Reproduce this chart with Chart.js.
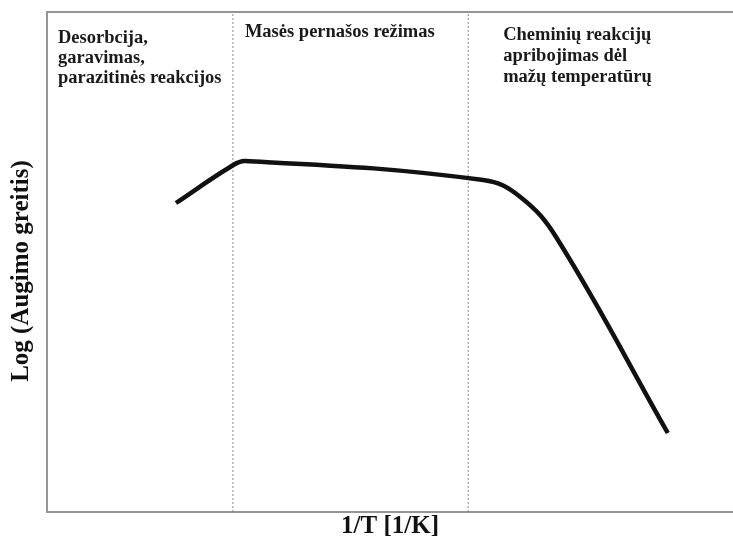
<!DOCTYPE html>
<html>
<head>
<meta charset="utf-8">
<script src="https://cdn.jsdelivr.net/npm/chart.js@4/dist/chart.umd.min.js"></script>
<style>
  html, body { margin: 0; padding: 0; background: #ffffff; }
  #wrap { width: 733px; height: 542px; }
</style>
</head>
<body>
<div id="wrap"><canvas id="c" width="733" height="542"></canvas></div>
<script>
// Growth rate curve vs inverse temperature (arbitrary units)
const invTemp = [1.88, 2.67, 2.89, 6.36, 6.90, 7.43, 9.05];
const logRate = [6.18, 6.90, 7.02, 6.64, 6.30, 5.48, 1.58];

// Boundaries between the three regimes (same units as invTemp)
const regimeBounds = [2.71, 6.14];

// Regime captions, one array of lines per regime
const regimeLabels = [
  ["Desorbcija,", "garavimas,", "parazitinės reakcijos"],
  ["Masės pernašos režimas"],
  ["Cheminių reakcijų", "apribojimas dėl", "mažų temperatūrų"]
];

const axisTitles = { x: "1/T [1/K]", y: "Log (Augimo greitis)" };
const xRange = [0, 10];
const yRange = [0, 10];

const serif = "'Liberation Serif', 'Times New Roman', serif";

const curve = invTemp.map((x, i) => ({ x: x, y: logRate[i] }));
const boundSets = regimeBounds.map(b => ({
  data: [{ x: b, y: yRange[0] }, { x: b, y: yRange[1] }],
  borderColor: '#8a8a8a',
  borderWidth: 1,
  borderDash: [2, 2],
  pointRadius: 0,
  tension: 0
}));

// Caption placement relative to each regime's left edge (baseline of first line)
const captionStyle = [
  { dx: 11, base: 31, lh: 20 },
  { dx: 12, base: 25, lh: 20 },
  { dx: 35, base: 28, lh: 21 }
];

const textPlugin = {
  id: 'chartText',
  afterDatasetsDraw(chart) {
    const { ctx, chartArea, scales } = chart;
    const edges = [chartArea.left].concat(regimeBounds.map(b => scales.x.getPixelForValue(b)));
    ctx.save();
    ctx.fillStyle = '#1a1a1a';
    ctx.font = "bold 18.5px " + serif;
    ctx.textAlign = 'left';
    ctx.textBaseline = 'alphabetic';
    regimeLabels.forEach((lines, i) => {
      const st = captionStyle[i];
      lines.forEach((line, j) => {
        ctx.fillText(line, edges[i] + st.dx, chartArea.top + st.base + j * st.lh);
      });
    });
    // vertical axis title, rotated
    ctx.fillStyle = '#111111';
    ctx.font = "bold 25px " + serif;
    ctx.textAlign = 'center';
    ctx.textBaseline = 'middle';
    ctx.translate(22, (chartArea.top + chartArea.bottom) / 2 + 9);
    ctx.rotate(-Math.PI / 2);
    ctx.fillText(axisTitles.y, 0, 0);
    ctx.restore();
  }
};

new Chart(document.getElementById('c'), {
  type: 'line',
  data: {
    datasets: [{
      data: curve,
      borderColor: '#111111',
      borderWidth: 4.5,
      pointRadius: 0,
      tension: 0.4,
      borderCapStyle: 'butt',
      borderJoinStyle: 'round'
    }].concat(boundSets)
  },
  options: {
    responsive: false,
    animation: false,
    plugins: { legend: { display: false }, tooltip: { enabled: false } },
    layout: { padding: 0 },
    scales: {
      x: {
        type: 'linear', position: 'bottom', min: xRange[0], max: xRange[1],
        grid: { display: false, drawTicks: false },
        ticks: { display: false },
        border: { display: true, color: '#959595', width: 2 },
        title: { display: true, text: axisTitles.x, color: '#111',
                 font: { family: serif, size: 25, weight: 'bold' }, padding: { top: 0, bottom: 0 } },
        afterFit(s) { s.height = 30; }
      },
      xTop: {
        type: 'linear', position: 'top', min: xRange[0], max: xRange[1],
        grid: { display: false, drawTicks: false },
        ticks: { display: false },
        border: { display: true, color: '#959595', width: 2 },
        afterFit(s) { s.height = 12; }
      },
      y: {
        type: 'linear', min: yRange[0], max: yRange[1],
        grid: { display: false, drawTicks: false },
        ticks: { display: false },
        border: { display: true, color: '#959595', width: 2 },
        afterFit(s) { s.width = 47; }
      }
    }
  },
  plugins: [textPlugin]
});
</script>
</body>
</html>
